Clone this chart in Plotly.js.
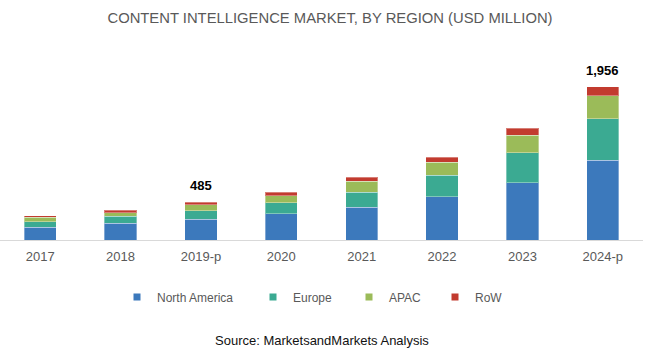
<!DOCTYPE html>
<html>
<head>
<meta charset="utf-8">
<script src="https://cdn.plot.ly/plotly-3.0.1.min.js"></script>
<style>html,body{margin:0;padding:0;background:#fff;}#chart{width:650px;height:356px;}</style>
</head>
<body>
<div id="chart"></div>
<script>
var years = ["2017", "2018", "2019-p", "2020", "2021", "2022", "2023", "2024-p"];
var northAmerica = [161, 212, 264, 333, 420, 553, 732, 1017];
var europe = [73, 90, 111, 141, 192, 273, 384, 532];
var apac = [55, 47, 73, 94, 137, 170, 221, 293];
var row = [18, 30, 37, 42, 51, 60, 90, 114];
var labelledYears = ["2019-p", "2024-p"];
var labelTexts = ["485", "1,956"];

var seriesNames = ["North America", "Europe", "APAC", "RoW"];
var seriesValues = [northAmerica, europe, apac, row];
var colors = ["#3C79BC", "#3BAA92", "#9BBB59", "#C23B2F"];
var legendIds = ["legend", "legend2", "legend3", "legend4"];
var legendTextX = [157, 293, 389, 475];

var W = 650, H = 356, ML = 0, MR = 7, MT = 60, MB = 116;
var plotW = W - ML - MR, plotH = H - MT - MB;

var traces = [];
seriesNames.forEach(function (name, i) {
  traces.push({
    type: "bar", x: years, y: seriesValues[i], name: name,
    marker: {color: colors[i], line: {color: "rgba(255,255,255,0.35)", width: 1}},
    showlegend: false, hoverinfo: "x+y+name"
  });
});
seriesNames.forEach(function (name, i) {
  traces.push({
    type: "scatter", mode: "markers", x: [null], y: [null], name: name,
    marker: {color: colors[i], symbol: "square", size: 7},
    legend: legendIds[i], showlegend: true, hoverinfo: "skip"
  });
});

var totals = years.map(function (y, j) {
  return northAmerica[j] + europe[j] + apac[j] + row[j];
});

var annotations = labelledYears.map(function (yr, k) {
  var j = years.indexOf(yr);
  return {
    x: yr, y: totals[j], xref: "x", yref: "y", text: "<b>" + labelTexts[k] + "</b>",
    showarrow: false, yanchor: "bottom", yshift: 7,
    font: {family: "Liberation Sans, Arial, sans-serif", size: 13, color: "#000"}
  };
});
annotations.push({
  xref: "paper", yref: "paper", x: (322 - ML) / plotW, y: (MT + plotH - 340) / plotH,
  xanchor: "center", yanchor: "middle", showarrow: false,
  text: "Source: MarketsandMarkets Analysis",
  font: {family: "Liberation Sans, Arial, sans-serif", size: 13, color: "#111"}
});

var layout = {
  width: W, height: H,
  margin: {l: ML, r: MR, t: MT, b: MB},
  paper_bgcolor: "#fff", plot_bgcolor: "#fff",
  barmode: "stack", bargap: 0.6,
  title: {
    text: "CONTENT INTELLIGENCE MARKET, BY REGION (USD MILLION)",
    x: 330 / W, xref: "container", xanchor: "center",
    y: 1 - 18 / H, yref: "container", yanchor: "middle",
    font: {family: "Liberation Sans, Arial, sans-serif", size: 14.8, color: "#595959"}
  },
  xaxis: {
    type: "category", showgrid: false, zeroline: false, automargin: false,
    showline: true, linecolor: "#d9d9d9", linewidth: 1,
    ticks: "", ticklabelstandoff: 4,
    tickfont: {family: "Liberation Sans, Arial, sans-serif", size: 13, color: "#595959"}
  },
  yaxis: {range: [0, 2300], visible: false, showgrid: false, zeroline: false, automargin: false},
  annotations: annotations,
  showlegend: true
};

legendIds.forEach(function (id, i) {
  layout[id] = {
    xref: "container", yref: "container",
    x: (legendTextX[i] - 40) / W, xanchor: "left",
    y: 1 - 297 / H, yanchor: "middle",
    orientation: "h", bgcolor: "rgba(0,0,0,0)",
    font: {family: "Liberation Sans, Arial, sans-serif", size: 12, color: "#595959"}
  };
});

Plotly.newPlot("chart", traces, layout, {displayModeBar: false, staticPlot: true});
</script>
</body>
</html>
